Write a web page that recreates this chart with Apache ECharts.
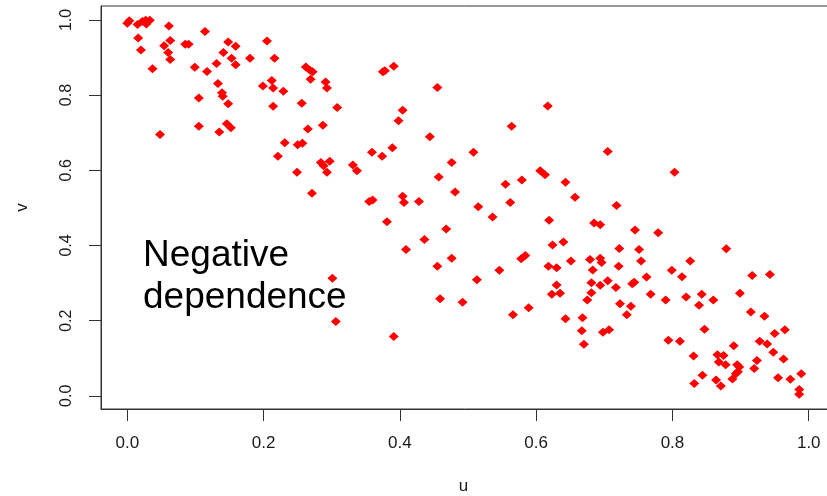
<!DOCTYPE html>
<html>
<head>
<meta charset="utf-8">
<script src="https://cdn.jsdelivr.net/npm/echarts@6/dist/echarts.min.js"></script>
<style>
html,body{margin:0;padding:0;background:#fff;}
#chart{width:827px;height:496px;}
</style>
</head>
<body>
<div id="chart"></div>
<script>
const u = [0.000,0.003,0.015,0.022,0.027,0.028,0.033,0.061,0.016,0.020,0.037,0.054,0.063,0.060,0.063,0.085,0.090,0.114,0.099,0.117,
0.131,0.141,0.148,0.159,0.153,0.159,0.180,0.133,0.139,0.140,0.148,0.105,0.105,0.135,0.146,0.152,0.048,0.205,0.216,0.199,
0.212,0.214,0.229,0.214,0.256,0.262,0.268,0.272,0.269,0.291,0.293,0.308,0.287,0.265,0.231,0.250,0.257,0.221,0.249,0.284,
0.288,0.297,0.293,0.271,0.378,0.375,0.391,0.455,0.404,0.398,0.444,0.389,0.359,0.374,0.331,0.337,0.457,0.476,0.508,0.481,
0.355,0.360,0.404,0.406,0.428,0.515,0.562,0.555,0.579,0.564,0.617,0.606,0.613,0.643,0.657,0.705,0.803,0.718,0.536,0.619,
0.468,0.436,0.381,0.409,0.624,0.640,0.685,0.694,0.745,0.779,0.722,0.751,0.879,0.391,0.301,0.306,0.455,0.476,0.459,0.492,
0.513,0.546,0.578,0.584,0.566,0.589,0.618,0.630,0.651,0.630,0.623,0.635,0.643,0.668,0.667,0.670,0.679,0.694,0.696,0.683,
0.681,0.694,0.705,0.681,0.675,0.698,0.707,0.721,0.754,0.717,0.723,0.739,0.733,0.741,0.744,0.762,0.768,0.790,0.799,0.814,
0.826,0.820,0.843,0.839,0.860,0.794,0.811,0.847,0.831,0.844,0.832,0.866,0.875,0.868,0.878,0.890,0.864,0.871,0.888,0.895,
0.898,0.896,0.893,0.899,0.917,0.943,0.915,0.935,0.950,0.965,0.928,0.939,0.948,0.924,0.963,0.920,0.955,0.973,0.989,0.986,
0.986];
const v = [0.991,0.998,0.988,0.996,0.999,0.989,0.999,0.984,0.952,0.920,0.870,0.931,0.945,0.913,0.895,0.935,0.935,0.969,0.874,0.863,
0.884,0.913,0.941,0.930,0.898,0.881,0.898,0.831,0.806,0.797,0.777,0.792,0.717,0.702,0.724,0.713,0.695,0.944,0.898,0.824,
0.839,0.819,0.810,0.770,0.778,0.875,0.866,0.862,0.842,0.835,0.819,0.767,0.720,0.710,0.673,0.668,0.672,0.637,0.595,0.621,
0.612,0.624,0.595,0.539,0.865,0.862,0.877,0.820,0.760,0.732,0.689,0.660,0.648,0.637,0.614,0.599,0.582,0.621,0.648,0.542,
0.517,0.521,0.531,0.514,0.517,0.503,0.514,0.563,0.574,0.717,0.771,0.599,0.588,0.568,0.528,0.650,0.595,0.506,0.476,0.467,
0.444,0.416,0.463,0.389,0.401,0.409,0.460,0.455,0.441,0.434,0.392,0.389,0.391,0.158,0.313,0.198,0.345,0.366,0.258,0.249,
0.309,0.334,0.365,0.373,0.216,0.234,0.345,0.341,0.359,0.295,0.270,0.273,0.205,0.208,0.173,0.137,0.363,0.366,0.355,0.335,
0.301,0.294,0.306,0.274,0.255,0.169,0.176,0.345,0.359,0.288,0.245,0.238,0.216,0.298,0.302,0.316,0.270,0.255,0.334,0.317,
0.359,0.263,0.270,0.241,0.255,0.148,0.145,0.177,0.106,0.055,0.033,0.109,0.107,0.090,0.083,0.133,0.042,0.026,0.045,0.083,
0.077,0.064,0.059,0.273,0.320,0.323,0.223,0.212,0.166,0.176,0.145,0.138,0.116,0.094,0.098,0.073,0.048,0.044,0.059,0.017,
0.004];
const xTicks = [0, 0.2, 0.4, 0.6, 0.8, 1.0];
const yTicks = [0, 0.2, 0.4, 0.6, 0.8, 1.0];
const xTitle = 'u';
const yTitle = 'v';
const annotation = 'Negative\ndependence';

const FONT = '"Liberation Sans", Arial, sans-serif';
const points = u.map((x, i) => [x, v[i]]);

const chart = echarts.init(document.getElementById('chart'), null, {renderer: 'canvas'});
chart.setOption({
  animation: false,
  backgroundColor: '#ffffff',
  grid: {left: 101, top: 6, width: 735, height: 403, show: true, borderColor: '#333', borderWidth: 1,
    containLabel: false, outerBoundsMode: 'none'},
  xAxis: {
    type: 'value', min: -0.0386, max: 1.040,
    name: xTitle, nameLocation: 'middle', nameGap: 77,
    nameTextStyle: {fontFamily: FONT, fontSize: 17, color: '#1a1a1a', verticalAlign: 'middle', padding: [0, 10, 0, 0]},
    axisLine: {show: true, onZero: false, lineStyle: {color: '#333', width: 1}},
    axisTick: {show: true, inside: false, length: 12, customValues: xTicks, lineStyle: {color: '#333'}},
    axisLabel: {show: true, customValues: xTicks, margin: 26, fontFamily: FONT, fontSize: 17, color: '#1a1a1a',
      formatter: val => val.toFixed(1)},
    splitLine: {show: false}
  },
  yAxis: {
    type: 'value', min: -0.035, max: 1.037,
    name: yTitle, nameLocation: 'middle', nameGap: 79, nameRotate: 90,
    nameTextStyle: {fontFamily: FONT, fontSize: 17, color: '#1a1a1a', verticalAlign: 'middle'},
    axisLine: {show: true, onZero: false, lineStyle: {color: '#333', width: 1}},
    axisTick: {show: true, inside: false, length: 12, customValues: yTicks, lineStyle: {color: '#333'}},
    axisLabel: {show: true, customValues: yTicks, rotate: 90, margin: 26, fontFamily: FONT, fontSize: 16, color: '#1a1a1a',
      formatter: val => val.toFixed(1)},
    splitLine: {show: false}
  },
  graphic: [{
    type: 'text', left: 143, top: 235, z: 10,
    style: {text: annotation, font: '37px ' + FONT, fill: '#000', lineHeight: 42}
  }],
  series: [{
    type: 'scatter',
    data: points,
    symbol: 'diamond',
    symbolSize: [10, 9],
    itemStyle: {color: '#ff0000', opacity: 1},
    silent: true
  }]
});
</script>
</body>
</html>
